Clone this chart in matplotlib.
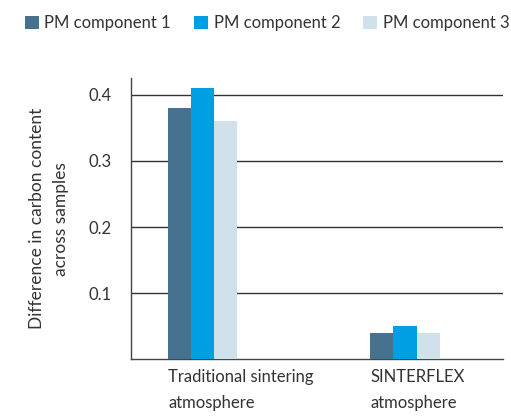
import matplotlib.pyplot as plt
import numpy as np

plt.rcParams['font.family'] = ['Lato', 'DejaVu Sans']

# Data
categories = ['Traditional sintering\natmosphere', 'SINTERFLEX\natmosphere']
series_names = ['PM component 1', 'PM component 2', 'PM component 3']
comp1 = [0.38, 0.04]
comp2 = [0.41, 0.05]
comp3 = [0.36, 0.04]
colors = ['#46718f', '#009fe3', '#d0e1ec']

fig = plt.figure(figsize=(5.11, 4.17), dpi=100)
ax = fig.add_axes([0.2564, 0.1379, 0.7279, 0.6751])

x = np.arange(len(categories))
w = 0.114
for i, (vals, name) in enumerate(zip([comp1, comp2, comp3], series_names)):
    ax.bar(x - w + i * w, vals, width=w, color=colors[i], label=name, zorder=3)

ax.set_xlim(-0.356, 1.485)
ax.set_ylim(0, 0.425)
ax.set_yticks([0.1, 0.2, 0.3, 0.4])
ax.set_yticklabels(['0.1', '0.2', '0.3', '0.4'])
ax.yaxis.grid(True, color='#333333', linewidth=1, zorder=0)
ax.tick_params(axis='y', length=0, pad=14, labelsize=12, colors='#333333')

ax.set_xticks(x - 1.5 * w)
ax.set_xticklabels(categories, ha='left', fontsize=12, color='#333333', linespacing=1.75)
ax.tick_params(axis='x', length=0, pad=7)

for s in ['top', 'right']:
    ax.spines[s].set_visible(False)
for s in ['left', 'bottom']:
    ax.spines[s].set_color('#444444')
    ax.spines[s].set_linewidth(1)

ax.set_ylabel('Difference in carbon content\nacross samples', fontsize=12.5,
              color='#333333', labelpad=14, linespacing=1.6)

fig.legend(loc='upper left', bbox_to_anchor=(0.02, 1.0), ncol=3, frameon=False,
           handlelength=0.8, handleheight=0.8, handletextpad=0.35,
           columnspacing=1.4, fontsize=12, labelcolor='#333333')

plt.savefig('out.png', dpi=100)
plt.close(fig)
